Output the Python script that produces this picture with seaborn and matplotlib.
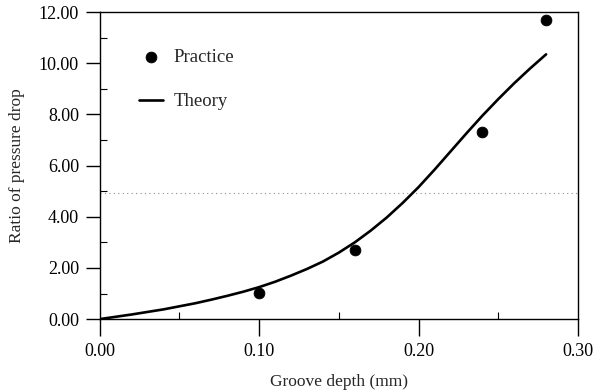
import numpy as np
import pandas as pd
import matplotlib
matplotlib.use("Agg")
import matplotlib.pyplot as plt
import seaborn as sns
from matplotlib.ticker import MultipleLocator, FormatStrFormatter

# measured points
practice_depth = [0.10, 0.16, 0.24, 0.28]
practice_ratio = [1.02, 2.70, 7.32, 11.68]

# theory curve
theory_depth = [0.00, 0.01, 0.02, 0.03, 0.04, 0.05, 0.06, 0.07, 0.08, 0.09,
                0.10, 0.11, 0.12, 0.13, 0.14, 0.15, 0.16, 0.17, 0.18, 0.19,
                0.20, 0.21, 0.22, 0.23, 0.24, 0.25, 0.26, 0.27, 0.28]
theory_ratio = [0.00, 0.09, 0.18, 0.28, 0.38, 0.50, 0.62, 0.76, 0.91, 1.07,
                1.25, 1.46, 1.70, 1.96, 2.25, 2.60, 3.00, 3.46, 3.97, 4.54,
                5.16, 5.84, 6.55, 7.26, 7.95, 8.60, 9.22, 9.80, 10.35]

sns.set_theme(style="ticks")
plt.rcParams["font.family"] = ["Liberation Serif", "DejaVu Serif"]
plt.rcParams["font.size"] = 12

fig = plt.figure(figsize=(5.94, 3.92), dpi=100)
ax = fig.add_axes([0.168, 0.186, 0.805, 0.783])

df_p = pd.DataFrame({"depth": practice_depth, "ratio": practice_ratio})
df_t = pd.DataFrame({"depth": theory_depth, "ratio": theory_ratio})

sns.lineplot(data=df_t, x="depth", y="ratio", color="black", lw=1.9,
             ax=ax, label="Theory", zorder=2)
sns.scatterplot(data=df_p, x="depth", y="ratio", color="black", s=60,
                edgecolor="black", ax=ax, label="Practice", zorder=3)

# faint scan line across the middle
ax.axhline(4.92, color="0.55", lw=0.8, ls=(0, (1, 3)), zorder=1)

ax.set_xlim(0, 0.30)
ax.set_ylim(0, 12)
ax.xaxis.set_major_locator(MultipleLocator(0.10))
ax.xaxis.set_minor_locator(MultipleLocator(0.05))
ax.yaxis.set_major_locator(MultipleLocator(2))
ax.yaxis.set_minor_locator(MultipleLocator(1))
ax.xaxis.set_major_formatter(FormatStrFormatter("%.2f"))
ax.yaxis.set_major_formatter(FormatStrFormatter("%.2f"))
ax.tick_params(axis="x", which="major", length=12)
ax.tick_params(axis="y", which="major", length=10)
ax.tick_params(which="major", direction="out", width=1,
               colors="black", labelsize=13, pad=5)
ax.tick_params(which="minor", direction="in", length=5, width=0.8,
               colors="black")
for sp in ax.spines.values():
    sp.set_visible(True)
    sp.set_linewidth(1.0)
    sp.set_color("black")

ax.set_xlabel("Groove depth (mm)", fontsize=12.5, labelpad=10)
ax.set_ylabel("Ratio of pressure drop", fontsize=12.5, labelpad=10)

h, l = ax.get_legend_handles_labels()
order = [l.index("Practice"), l.index("Theory")]
ax.legend([h[i] for i in order], [l[i] for i in order], loc="upper left",
          bbox_to_anchor=(0.047, 0.936), frameon=False, fontsize=13.5,
          handlelength=1.25, labelspacing=1.45, handletextpad=0.6)

fig.savefig("out.png", dpi=100)
